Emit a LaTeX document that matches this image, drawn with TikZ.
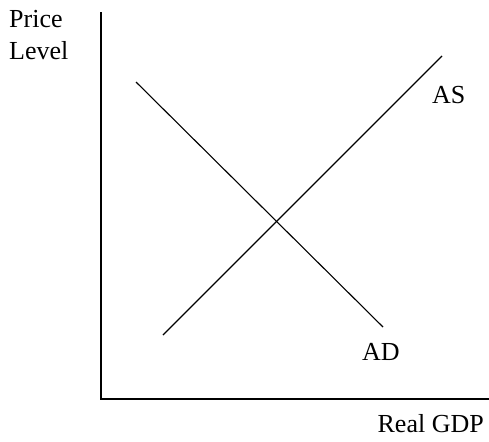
\documentclass[tikz,border=0pt]{standalone}
\usepackage{fontspec}
\setmainfont{Liberation Serif}
\begin{document}
\begin{tikzpicture}[x=1pt,y=-1pt,
  axis/.style={line width=2.4pt,line cap=rect},
  curve/.style={line width=1.1pt},
  lbl/.style={inner sep=0pt,font=\fontsize{26}{30}\selectfont}]
\useasboundingbox[fill=white] (0,0) rectangle (489,441);
\coordinate (ytop) at (101,13);
\coordinate (origin) at (101,399);
\coordinate (xend) at (489,399);
\draw[axis] (ytop) -- (origin) -- (xend);
\coordinate (as1) at (163,335);
\coordinate (as2) at (442,56);
\coordinate (ad1) at (136,82);
\coordinate (ad2) at (383,327);
\draw[curve] (as1) -- (as2);
\draw[curve] (ad1) -- (ad2);
\node[lbl,anchor=base west] (price) at (9,28) {Price};
\node[lbl,anchor=base west] (level) at (9,60) {Level};
\node[lbl,anchor=base west] (as) at (432,103) {AS};
\node[lbl,anchor=base west] (ad) at (362,360) {AD};
\node[lbl,anchor=base east] (gdp) at (484,432) {Real GDP};
\end{tikzpicture}
\end{document}
